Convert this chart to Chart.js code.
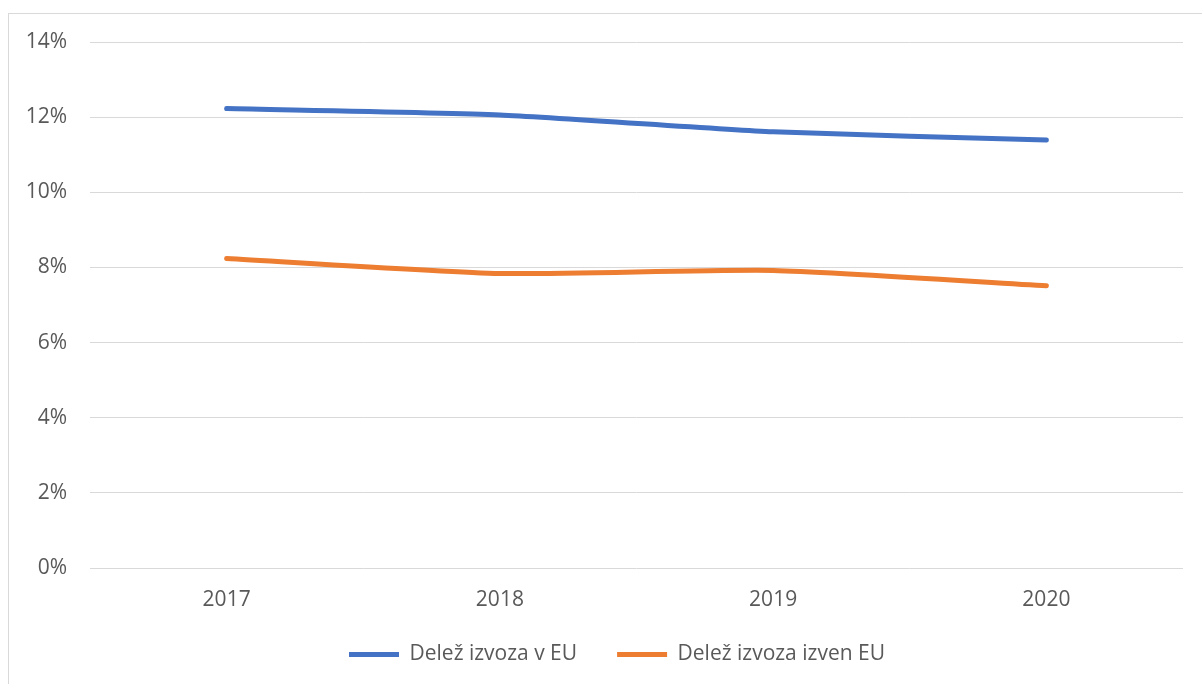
<!DOCTYPE html>
<html>
<head>
    <meta charset="utf-8">
    <title>Delež izvoza</title>
    <script src="https://cdn.jsdelivr.net/npm/chart.js"></script>
    <style>
        html, body { margin: 0; padding: 0; background: #fff; overflow: hidden; }
        #frame {
            position: absolute; left: 8px; top: 13px;
            width: 1194px; height: 671px; box-sizing: border-box;
            border-left: 1px solid #d9d9d9; border-top: 1px solid #d9d9d9;
        }
        #myChart { display: block; }
    </style>
</head>
<body>

<div id="frame">
    <canvas id="myChart" width="1193" height="670"></canvas>
</div>

<script>
    const years = ['2017', '2018', '2019', '2020'];
    const shareInEU = [12.23, 12.06, 11.61, 11.39];
    const shareOutsideEU = [8.24, 7.84, 7.92, 7.51];
    const yTicks = [0, 2, 4, 6, 8, 10, 12, 14];

    const textColor = '#595959';
    const gridColor = '#d9d9d9';
    const fontFamily = '"Open Sans", sans-serif';

    // nudge the legend box a bit (excel centres it differently)
    const legendNudge = {
        id: 'legendNudge',
        afterLayout(chart) {
            const lg = chart.legend;
            lg.left += 21; lg.right += 21;
            lg.top -= 8; lg.bottom -= 8;
        }
    };

    const ctx = document.getElementById('myChart').getContext('2d');
    const chart = new Chart(ctx, {
        type: 'line',
        data: {
            labels: years,
            datasets: [
                {
                    label: 'Delež izvoza v EU',
                    data: shareInEU,
                    borderColor: '#4472C4',
                    backgroundColor: '#4472C4',
                    borderWidth: 5,
                    borderCapStyle: 'round',
                    pointRadius: 0,
                    tension: 0.2
                },
                {
                    label: 'Delež izvoza izven EU',
                    data: shareOutsideEU,
                    borderColor: '#ED7D31',
                    backgroundColor: '#ED7D31',
                    borderWidth: 5,
                    borderCapStyle: 'round',
                    pointRadius: 0,
                    tension: 0.2
                }
            ]
        },
        plugins: [legendNudge],
        options: {
            responsive: false,
            animation: false,
            layout: {
                padding: { left: 0, top: 28, right: 19, bottom: 1 }
            },
            scales: {
                x: {
                    offset: true,
                    grid: { display: false, drawTicks: false },
                    border: { display: false },
                    ticks: {
                        color: textColor,
                        padding: 19,
                        maxRotation: 0,
                        font: { family: fontFamily, size: 21 }
                    },
                    afterFit: function(scale) { scale.height = 44; }
                },
                y: {
                    min: 0,
                    max: 14,
                    afterBuildTicks: function(scale) {
                        scale.ticks = yTicks.map(v => ({ value: v }));
                    },
                    grid: {
                        color: gridColor,
                        lineWidth: 1,
                        drawTicks: true,
                        tickLength: 23,
                        tickColor: 'rgba(0,0,0,0)'
                    },
                    border: { display: false },
                    ticks: {
                        color: textColor,
                        padding: 0,
                        font: { family: fontFamily, size: 21 },
                        callback: v => v + '%'
                    },
                    afterFit: function(scale) { scale.width = 81; }
                }
            },
            plugins: {
                legend: {
                    position: 'bottom',
                    labels: {
                        usePointStyle: true,
                        pointStyle: 'line',
                        pointStyleWidth: 50,
                        boxHeight: 21,
                        padding: 40,
                        color: textColor,
                        font: { family: fontFamily, size: 21 }
                    }
                },
                tooltip: { enabled: false }
            }
        }
    });
</script>

</body>
</html>
